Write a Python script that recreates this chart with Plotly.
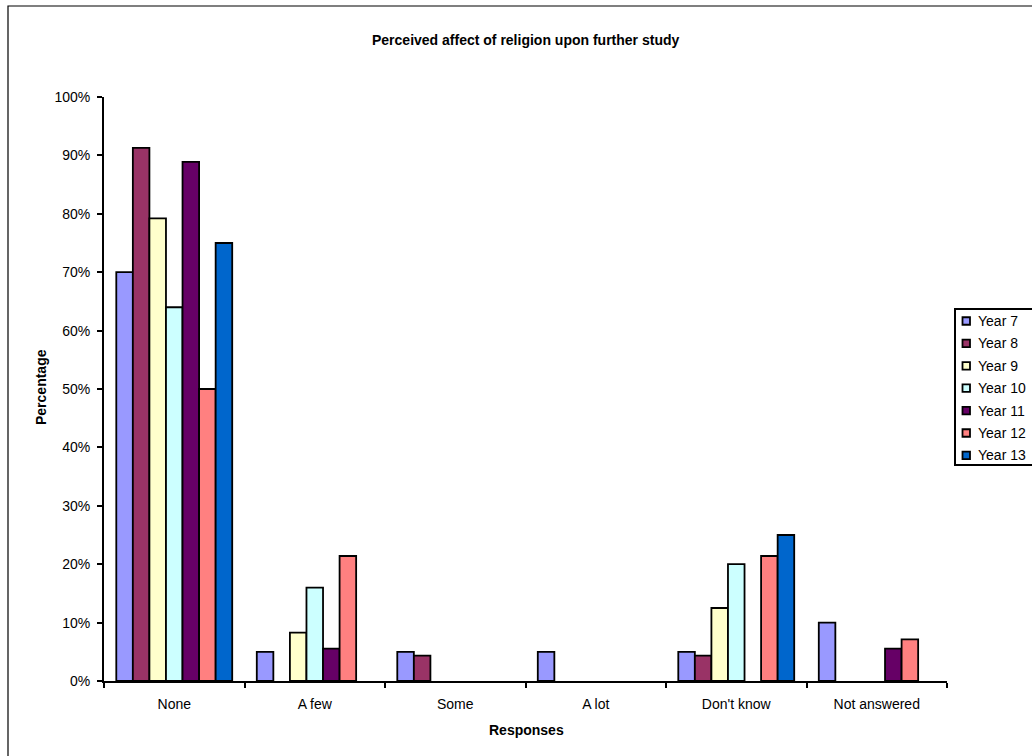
import plotly.graph_objects as go

# Survey responses: perceived effect of religion upon further study, by year group (%)
responses = ["None", "A few", "Some", "A lot", "Don't know", "Not answered"]
year_groups = ["Year 7", "Year 8", "Year 9", "Year 10", "Year 11", "Year 12", "Year 13"]

year7 = [70.0, 5.0, 5.0, 5.0, 5.0, 10.0]
year8 = [91.3, 0.0, 4.35, 0.0, 4.35, 0.0]
year9 = [79.2, 8.3, 0.0, 0.0, 12.5, 0.0]
year10 = [64.0, 16.0, 0.0, 0.0, 20.0, 0.0]
year11 = [88.9, 5.56, 0.0, 0.0, 0.0, 5.56]
year12 = [50.0, 21.4, 0.0, 0.0, 21.4, 7.14]
year13 = [75.0, 0.0, 0.0, 0.0, 25.0, 0.0]

series = [year7, year8, year9, year10, year11, year12, year13]
colors = ["#9999FF", "#993366", "#FFFFCC", "#CCFFFF", "#660066", "#FF8080", "#0066CC"]

y_ticks = list(range(0, 101, 10))

FONT = "Liberation Sans, Arial, sans-serif"
W, H = 1032, 756
L, R, T, B = 104, 85, 97, 75
PW, PH = W - L - R, H - T - B


def px_x(px):
    return (px - L) / PW


def px_y(py):
    return (H - B - py) / PH


fig = go.Figure()
for name, vals, col in zip(year_groups, series, colors):
    # empty categories are left without a bar (no outline along the axis)
    fig.add_trace(go.Bar(
        name=name, x=responses, y=[v if v > 0 else None for v in vals],
        marker=dict(color=col, line=dict(color="black", width=1.8)),
        showlegend=False,
    ))

shapes = []
annotations = []

# outer chart frame
shapes.append(dict(type="rect", xref="paper", yref="paper",
                   x0=px_x(8), x1=px_x(1045), y0=px_y(6), y1=px_y(770),
                   line=dict(color="black", width=1.2), fillcolor="rgba(0,0,0,0)",
                   layer="below"))

# legend box
shapes.append(dict(type="rect", xref="paper", yref="paper",
                   x0=px_x(955), x1=px_x(1045), y0=px_y(309), y1=px_y(465),
                   line=dict(color="black", width=2), fillcolor="white"))
for i, (name, col) in enumerate(zip(year_groups, colors)):
    cy = 321 + i * 22.4
    shapes.append(dict(type="rect", xref="paper", yref="paper",
                       x0=px_x(962.5), x1=px_x(970), y0=px_y(cy - 3.75), y1=px_y(cy + 3.75),
                       line=dict(color="black", width=1.8), fillcolor=col))
    annotations.append(dict(text=name, xref="paper", yref="paper",
                            x=px_x(976), y=px_y(cy), xanchor="left", yanchor="middle",
                            showarrow=False, font=dict(family=FONT, size=14, color="black")))

# titles
annotations.append(dict(text="<b>Perceived affect of religion upon further study</b>",
                        xref="paper", yref="paper", x=px_x(525), y=px_y(40),
                        xanchor="center", yanchor="middle", showarrow=False,
                        font=dict(family=FONT, size=14, color="black")))
annotations.append(dict(text="<b>Responses</b>", xref="paper", yref="paper",
                        x=px_x(526), y=px_y(730), xanchor="center", yanchor="middle",
                        showarrow=False, font=dict(family=FONT, size=14, color="black")))
annotations.append(dict(text="<b>Percentage</b>", xref="paper", yref="paper",
                        x=px_x(41), y=px_y(387), xanchor="center", yanchor="middle",
                        textangle=-90, showarrow=False,
                        font=dict(family=FONT, size=14, color="black")))

fig.update_layout(
    width=W, height=H, autosize=False,
    margin=dict(l=L, r=R, t=T, b=B, pad=0),
    paper_bgcolor="white", plot_bgcolor="white",
    barmode="group", bargap=0.175, bargroupgap=0,
    font=dict(family=FONT, size=14, color="black"),
    shapes=shapes, annotations=annotations,
    showlegend=False,
)
fig.update_xaxes(
    type="category", showgrid=False, showline=True, linecolor="black", linewidth=2,
    ticks="outside", tickson="boundaries", ticklen=5, tickwidth=2, tickcolor="black",
    tickfont=dict(family=FONT, size=14, color="black"), ticklabelstandoff=9,
)
fig.update_yaxes(
    range=[0, 100], tickvals=y_ticks, ticktext=[f"{v}%" for v in y_ticks],
    showgrid=False, zeroline=False, showline=True, linecolor="black", linewidth=2,
    ticks="outside", ticklen=5, tickwidth=2, tickcolor="black",
    tickfont=dict(family=FONT, size=14, color="black"), ticklabelstandoff=4,
)

fig.write_html("out.html")
